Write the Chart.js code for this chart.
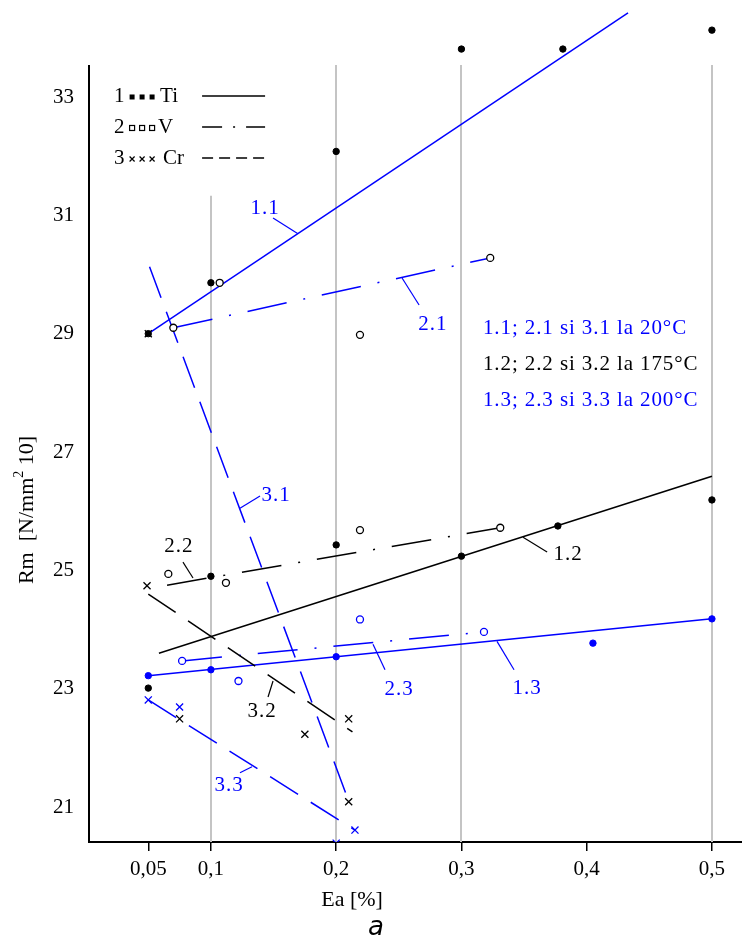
<!DOCTYPE html>
<html>
<head>
<meta charset="utf-8">
<script src="https://cdn.jsdelivr.net/npm/chart.js@4.4.1/dist/chart.umd.min.js"></script>
<style>
  html, body { margin: 0; padding: 0; background: #ffffff; }
  canvas { display: block; }
</style>
</head>
<body>
<canvas id="chart" width="742" height="943"></canvas>
<script>
// Axis ticks
const xTicks = [0.05, 0.1, 0.2, 0.3, 0.4, 0.5];
const yTicks = [21, 23, 25, 27, 29, 31, 33];

// Measured points [Ea %, Rm] — Ti (1), V (2), Cr (3) at 20, 175 and 200 °C
const ti20  = [[0.05, 29.0], [0.1, 29.86], [0.2, 32.08], [0.3, 33.81], [0.381, 33.81], [0.5, 34.13]];
const ti175 = [[0.05, 23.01], [0.1, 24.9], [0.2, 25.43], [0.3, 25.24], [0.377, 25.75], [0.5, 26.19]];
const ti200 = [[0.05, 23.22], [0.1, 23.32], [0.2, 23.54], [0.405, 23.77], [0.5, 24.18]];

const v20  = [[0.07, 29.1], [0.107, 29.86], [0.219, 28.98], [0.323, 30.28]];
const v175 = [[0.066, 24.94], [0.112, 24.79], [0.219, 25.68], [0.331, 25.72]];
const v200 = [[0.077, 23.47], [0.122, 23.13], [0.219, 24.17], [0.318, 23.96]];

const cr20  = [[0.05, 29.0], [0.21, 21.09]];
const cr175 = [[0.049, 24.74], [0.075, 22.49], [0.175, 22.23], [0.21, 22.49]];
const cr200 = [[0.05, 22.81], [0.075, 22.69], [0.2, 20.39], [0.215, 20.61]];

// Regression lines, start and end [Ea %, Rm]
const fit11 = [[0.05, 29.0], [0.433, 34.42]];
const fit12 = [[0.0585, 23.6], [0.5, 26.59]];
const fit13 = [[0.05, 23.22], [0.5, 24.18]];
const fit21 = [[0.07, 29.1], [0.323, 30.28]];
const fit22 = [[0.065, 24.75], [0.331, 25.72]];
const fit23 = [[0.077, 23.47], [0.318, 23.96]];
const fit31 = [[0.051, 30.13], [0.21, 21.1]];
const fit32 = [[0.05, 24.6], [0.213, 22.27]];
const fit33 = [[0.05, 22.81], [0.215, 20.61]];

// Temperature key
const tempKey = ['1.1; 2.1 si 3.1 la 20°C', '1.2; 2.2 si 3.2 la 175°C', '1.3; 2.3 si 3.3 la 200°C'];

// ---- styling ----
const BLUE = '#0000ff';
const BLACK = '#000000';
const GRID = '#c4c4c4';
const SERIF = '"Liberation Serif", "Times New Roman", serif';
const SOLID = [];
const DASHDOT = [40, 17, 2, 17];
const DASHED = [33, 15];

const pts = a => a.map(([x, y]) => ({ x, y }));

function fitSet(data, dash, color) {
  return {
    type: 'line', data: pts(data), borderColor: color, borderWidth: 1.5,
    borderDash: dash, pointRadius: 0, fill: false, tension: 0, order: 2
  };
}
function markerSet(data, kind, color) {
  const base = { type: 'scatter', data: pts(data), showLine: false, borderColor: color,
                 pointBorderColor: color, pointHoverRadius: 0, order: 1 };
  if (kind === 'ti') return { ...base, pointStyle: 'circle', pointRadius: 3.2,
                               pointBackgroundColor: color, pointBorderWidth: 1 };
  if (kind === 'v') return { ...base, pointStyle: 'circle', pointRadius: 3.5,
                              pointBackgroundColor: '#ffffff', pointBorderWidth: 1.3 };
  return { ...base, pointStyle: 'crossRot', pointRadius: 5, pointBorderWidth: 1.3 };
}

// Vertical guide lines: Ea value and the Rm value where each starts
const guideLines = [[0.1, 31.33], [0.2, 33.54], [0.3, 33.54], [0.5, 33.54]];
const yAxisTop = 33.54;

// Curve labels with leader lines, in data coordinates
const curveLabels = [
  { text: '1.1', color: BLUE,  at: [0.1432, 31.12], from: [0.1496, 30.955], to: [0.1695, 30.69] },
  { text: '2.1', color: BLUE,  at: [0.2773, 29.15], from: [0.2662, 29.485], to: [0.2526, 29.94] },
  { text: '3.1', color: BLUE,  at: [0.1520, 26.26], from: [0.1392, 26.257], to: [0.1232, 26.05] },
  { text: '2.2', color: BLACK, at: [0.0745, 25.41], from: [0.0777, 25.14],  to: [0.0857, 24.87] },
  { text: '1.2', color: BLACK, at: [0.3851, 25.26], from: [0.3684, 25.31],  to: [0.3492, 25.56] },
  { text: '3.2', color: BLACK, at: [0.1408, 22.61], from: [0.1456, 22.86],  to: [0.1496, 23.13] },
  { text: '2.3', color: BLUE,  at: [0.2502, 22.98], from: [0.2390, 23.32],  to: [0.2294, 23.75] },
  { text: '1.3', color: BLUE,  at: [0.3524, 23.01], from: [0.3420, 23.32],  to: [0.3284, 23.80] },
  { text: '3.3', color: BLUE,  at: [0.1145, 21.36], from: [0.1232, 21.58],  to: [0.1328, 21.68] }
];
const tempKeyAt = [0.3172, 29.09];
const tempKeyColors = [BLUE, BLACK, BLUE];
const tempKeyStep = 36;

// Element key (upper left)
const keyAt = [0.0227, 33.017];
const keyRows = [
  { num: '1', name: 'Ti', marker: 'ti', dash: SOLID,          nameDx: 46 },
  { num: '2', name: 'V',  marker: 'v',  dash: [20, 11, 2, 11], nameDx: 44 },
  { num: '3', name: 'Cr', marker: 'cr', dash: [11, 6],         nameDx: 49 }
];

function text(ctx, str, x, y, color, font, align, spacing) {
  ctx.save();
  ctx.fillStyle = color;
  ctx.font = font;
  ctx.textAlign = align || 'center';
  ctx.textBaseline = 'middle';
  if (spacing) ctx.letterSpacing = spacing + 'px';
  ctx.fillText(str, x, y);
  ctx.restore();
}

function drawKeyMarker(ctx, kind, cx, cy) {
  ctx.save();
  ctx.strokeStyle = BLACK; ctx.fillStyle = BLACK; ctx.lineWidth = 1.2;
  if (kind === 'ti') {
    ctx.fillRect(cx - 2.5, cy - 2.5, 5, 5);
  } else if (kind === 'v') {
    ctx.strokeRect(cx - 2.5, cy - 2.5, 5, 5);
  } else {
    ctx.beginPath();
    ctx.moveTo(cx - 2.5, cy - 2.5); ctx.lineTo(cx + 2.5, cy + 2.5);
    ctx.moveTo(cx + 2.5, cy - 2.5); ctx.lineTo(cx - 2.5, cy + 2.5);
    ctx.stroke();
  }
  ctx.restore();
}

const decor = {
  id: 'decor',
  beforeDatasetsDraw(chart) {
    const { ctx, scales: { x, y } } = chart;
    ctx.save();
    ctx.strokeStyle = GRID;
    ctx.lineWidth = 2;
    guideLines.forEach(([v, top]) => {
      const px = Math.round(x.getPixelForValue(v));
      ctx.beginPath();
      ctx.moveTo(px, y.getPixelForValue(top));
      ctx.lineTo(px, y.bottom);
      ctx.stroke();
    });
    // Rm axis line
    ctx.strokeStyle = BLACK;
    ctx.lineWidth = 2;
    ctx.beginPath();
    ctx.moveTo(x.left, y.getPixelForValue(yAxisTop));
    ctx.lineTo(x.left, y.bottom + 1);
    ctx.stroke();
    ctx.restore();
  },
  afterDatasetsDraw(chart) {
    const { ctx, scales: { x, y } } = chart;
    const P = ([a, b]) => [x.getPixelForValue(a), y.getPixelForValue(b)];

    // curve labels
    curveLabels.forEach(l => {
      const [fx, fy] = P(l.from), [tx, ty] = P(l.to), [ax, ay] = P(l.at);
      ctx.save();
      ctx.strokeStyle = l.color; ctx.lineWidth = 1.2;
      ctx.beginPath(); ctx.moveTo(fx, fy); ctx.lineTo(tx, ty); ctx.stroke();
      ctx.restore();
      text(ctx, l.text, ax, ay, l.color, '21px ' + SERIF, 'center', 1);
    });

    // temperature key
    const [kx, ky] = P(tempKeyAt);
    tempKey.forEach((t, i) => text(ctx, t, kx, ky + i * tempKeyStep, tempKeyColors[i], '21px ' + SERIF, 'left', 0.9));

    // element key
    const [lx, ly] = P(keyAt);
    keyRows.forEach((r, i) => {
      const ry = ly + i * 31;
      text(ctx, r.num, lx, ry, BLACK, '21px ' + SERIF, 'left');
      [18, 28, 38].forEach(dx => drawKeyMarker(ctx, r.marker, lx + dx, ry + 1));
      text(ctx, r.name, lx + r.nameDx, ry, BLACK, '21px ' + SERIF, 'left');
      ctx.save();
      ctx.strokeStyle = BLACK; ctx.lineWidth = 1.5; ctx.setLineDash(r.dash);
      ctx.beginPath(); ctx.moveTo(lx + 88, ry); ctx.lineTo(lx + 151, ry); ctx.stroke();
      ctx.restore();
    });

    // axis titles
    const xMid = x.getPixelForValue(0.2127);
    text(ctx, 'Ea [%]', xMid, 900, BLACK, '22px ' + SERIF, 'center');
    text(ctx, 'a', xMid + 24, 928, BLACK, 'italic 26px "DejaVu Sans", Verdana, sans-serif', 'center');

    ctx.save();
    ctx.translate(27, 510);
    ctx.rotate(-Math.PI / 2);
    ctx.fillStyle = BLACK;
    ctx.textBaseline = 'middle';
    const big = '22px ' + SERIF, small = '14px ' + SERIF;
    const parts = [['Rm  [N/mm', big, 0], ['2', small, -8], [' 10]', big, 0]];
    let total = 0;
    parts.forEach(p => { ctx.font = p[1]; total += ctx.measureText(p[0]).width; });
    let cx = -total / 2;
    parts.forEach(p => { ctx.font = p[1]; ctx.fillText(p[0], cx, p[2]); cx += ctx.measureText(p[0]).width; });
    ctx.restore();
  }
};

// keep the plot area exactly where the layout puts it
const noPadding = s => { s.paddingLeft = 0; s.paddingRight = 0; s.paddingTop = 0; s.paddingBottom = 0; };

new Chart(document.getElementById('chart'), {
  type: 'scatter',
  data: {
    datasets: [
      markerSet(ti20, 'ti', BLACK), markerSet(v20, 'v', BLACK), markerSet(cr20, 'cr', BLACK),
      markerSet(ti175, 'ti', BLACK), markerSet(v175, 'v', BLACK), markerSet(cr175, 'cr', BLACK),
      markerSet(ti200, 'ti', BLUE), markerSet(v200, 'v', BLUE), markerSet(cr200, 'cr', BLUE),
      fitSet(fit11, SOLID, BLUE), fitSet(fit21, DASHDOT, BLUE), fitSet(fit31, DASHED, BLUE),
      fitSet(fit12, SOLID, BLACK), fitSet(fit22, DASHDOT, BLACK), fitSet(fit32, DASHED, BLACK),
      fitSet(fit13, SOLID, BLUE), fitSet(fit23, DASHDOT, BLUE), fitSet(fit33, DASHED, BLUE)
    ]
  },
  options: {
    responsive: false,
    animation: false,
    devicePixelRatio: 1,
    events: [],
    layout: { autoPadding: false, padding: { top: 8, left: 0, right: 0, bottom: 0 } },
    plugins: { legend: { display: false }, tooltip: { enabled: false } },
    scales: {
      x: {
        type: 'linear', min: 0.00267, max: 0.524,
        afterBuildTicks: s => { s.ticks = xTicks.map(v => ({ value: v })); },
        afterFit: s => { s.height = 101; noPadding(s); },
        grid: { drawOnChartArea: false, drawTicks: true, tickLength: 9, color: BLACK, lineWidth: 1.5 },
        border: { display: true, color: BLACK, width: 2 },
        ticks: {
          color: BLACK, font: { family: SERIF, size: 21 }, padding: 6,
          maxRotation: 0, autoSkip: false,
          callback: v => String(v).replace('.', ',')
        }
      },
      y: {
        type: 'linear', min: 20.409, max: 34.504,
        afterBuildTicks: s => { s.ticks = yTicks.map(v => ({ value: v })); },
        afterFit: s => { s.width = 89; noPadding(s); },
        grid: { display: false, drawTicks: false },
        border: { display: false },
        ticks: { color: BLACK, font: { family: SERIF, size: 21 }, padding: 15 }
      }
    }
  },
  plugins: [decor]
});
</script>
</body>
</html>
